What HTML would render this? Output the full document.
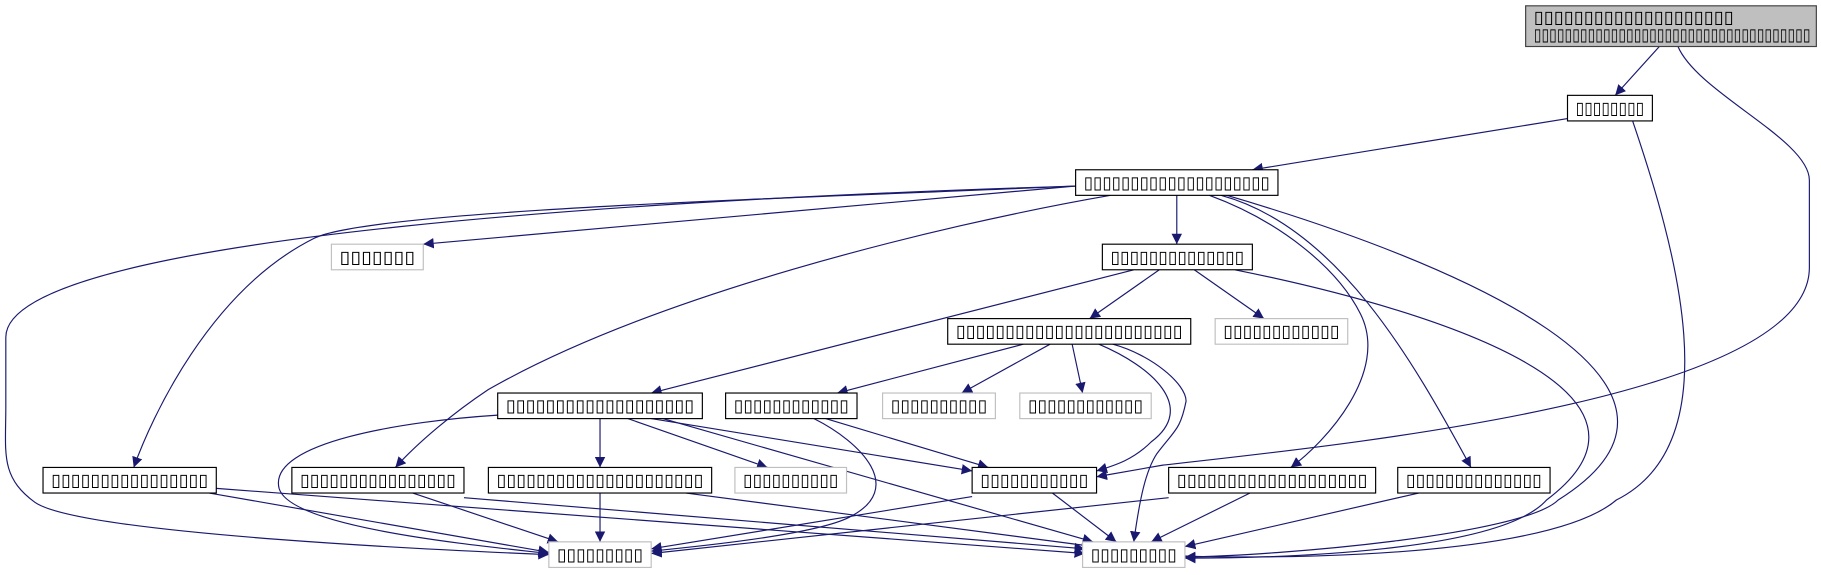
<!DOCTYPE html>
<html><head><meta charset="utf-8"><style>
html,body{margin:0;padding:0;background:#fff;width:1821px;height:575px;overflow:hidden}
svg{display:block}
text{font-family:"DejaVu Sans","Liberation Sans",sans-serif;font-size:15px;fill:#000}
</style></head><body>
<svg width="1821" height="575" viewBox="0 0 1566 494.5" preserveAspectRatio="none" xmlns="http://www.w3.org/2000/svg">
<defs><marker id="a" viewBox="0 0 10 10" refX="10" refY="5" markerWidth="9" markerHeight="9" markerUnits="userSpaceOnUse" orient="auto"><path d="M0,0 L10,5 L0,10 z" fill="#191970"/></marker></defs>
<g fill="none" stroke="#191970" stroke-width="1" marker-end="url(#a)">
<path d="M1427,40 L1389,82"/>
<path d="M1443,40 C1460,80 1556,120 1556,155 V230 C1556,340 1180,380 1000,400 L943,410"/>
<path d="M1360,100 L1077,146"/>
<path d="M1404,104 C1440,210 1490,380 1390,430 C1320,490 1000,478 1019,478"/>
<path d="M925,160 L364,210"/>
<path d="M1012,168 L1012,210"/>
<path d="M925,160 C700,170 320,180 270,205 C180,250 130,360 115,402"/>
<path d="M925,160 C600,170 5,200 5,290 V350 C5,390 0,410 30,432 C70,460 400,474 472,477"/>
<path d="M955,168 C800,195 560,255 420,335 C390,355 360,380 340,402"/>
<path d="M1040,168 C1100,190 1150,230 1170,270 C1195,320 1140,380 1110,402"/>
<path d="M1050,168 C1150,195 1215,310 1265,402"/>
<path d="M1055,168 C1250,225 1500,330 1340,430 C1310,460 1100,478 1019,479"/>
<path d="M975,232 L560,338"/>
<path d="M997,232 L937,274"/>
<path d="M1027,232 L1087,274"/>
<path d="M1062,232 C1250,270 1450,340 1330,430 C1290,475 1100,480 1019,480"/>
<path d="M880,296 L720,338"/>
<path d="M903,296 L827,338"/>
<path d="M922,296 L931,338"/>
<path d="M945,296 C990,315 1030,350 990,380 C975,395 960,400 943,405"/>
<path d="M957,296 C990,305 1020,330 1020,345 C1015,370 1010,370 995,390 C985,405 980,430 975,466"/>
<path d="M428,357 C350,362 230,380 240,420 C250,455 420,470 472,476"/>
<path d="M516,360 L516,402"/>
<path d="M540,360 L660,402"/>
<path d="M560,360 L836,405"/>
<path d="M570,360 L940,466"/>
<path d="M700,360 C740,380 780,420 730,445 C700,460 600,470 560,474"/>
<path d="M710,360 L850,402"/>
<path d="M180,424 L472,475"/>
<path d="M186,420 L933,476"/>
<path d="M355,424 L480,466"/>
<path d="M399,428 L933,472"/>
<path d="M516,424 L516,466"/>
<path d="M590,424 L940,470"/>
<path d="M836,427 L560,472"/>
<path d="M905,424 L960,466"/>
<path d="M1075,424 L990,466"/>
<path d="M1005,428 L560,476"/>
<path d="M1220,424 L1019,470"/>
</g>
<g stroke-width="1">
<rect x="1312" y="5" width="250" height="35" fill="#bfbfbf" stroke="#404040"/>
<text x="1319" y="20" textLength="172" lengthAdjust="spacingAndGlyphs">▯▯▯▯▯▯▯▯▯▯▯▯▯▯▯▯▯▯▯▯</text>
<text x="1319" y="35" textLength="238" lengthAdjust="spacingAndGlyphs">▯▯▯▯▯▯▯▯▯▯▯▯▯▯▯▯▯▯▯▯▯▯▯▯▯▯▯▯▯▯▯▯▯▯▯▯</text>
</g>
<g fill="#fff" stroke-width="1">
<rect x="1348" y="82" width="73" height="22" stroke="#000"/>
<rect x="925" y="146" width="174" height="22" stroke="#000"/>
<rect x="285" y="210" width="79" height="22" stroke="#bfbfbf"/>
<rect x="948" y="210" width="129" height="22" stroke="#000"/>
<rect x="815" y="274" width="209" height="22" stroke="#000"/>
<rect x="1045" y="274" width="114" height="22" stroke="#bfbfbf"/>
<rect x="428" y="338" width="176" height="22" stroke="#000"/>
<rect x="624" y="338" width="113" height="22" stroke="#000"/>
<rect x="759" y="338" width="97" height="22" stroke="#bfbfbf"/>
<rect x="877" y="338" width="113" height="22" stroke="#bfbfbf"/>
<rect x="37" y="402" width="149" height="22" stroke="#000"/>
<rect x="251" y="402" width="148" height="22" stroke="#000"/>
<rect x="420" y="402" width="192" height="22" stroke="#000"/>
<rect x="632" y="402" width="96" height="22" stroke="#bfbfbf"/>
<rect x="836" y="402" width="107" height="22" stroke="#000"/>
<rect x="1005" y="402" width="178" height="22" stroke="#000"/>
<rect x="1202" y="402" width="131" height="22" stroke="#000"/>
<rect x="472" y="466" width="88" height="22" stroke="#bfbfbf"/>
<rect x="931" y="466" width="88" height="22" stroke="#bfbfbf"/>
</g>
<g text-anchor="start">
<text x="1355" y="98" textLength="59" lengthAdjust="spacingAndGlyphs">▯▯▯▯▯▯▯▯</text>
<text x="932" y="162" textLength="160" lengthAdjust="spacingAndGlyphs">▯▯▯▯▯▯▯▯▯▯▯▯▯▯▯▯▯▯▯▯</text>
<text x="292" y="226" textLength="65" lengthAdjust="spacingAndGlyphs">▯▯▯▯▯▯▯</text>
<text x="955" y="226" textLength="115" lengthAdjust="spacingAndGlyphs">▯▯▯▯▯▯▯▯▯▯▯▯▯▯</text>
<text x="822" y="290" textLength="195" lengthAdjust="spacingAndGlyphs">▯▯▯▯▯▯▯▯▯▯▯▯▯▯▯▯▯▯▯▯▯▯▯</text>
<text x="1052" y="290" textLength="100" lengthAdjust="spacingAndGlyphs">▯▯▯▯▯▯▯▯▯▯▯▯</text>
<text x="435" y="354" textLength="162" lengthAdjust="spacingAndGlyphs">▯▯▯▯▯▯▯▯▯▯▯▯▯▯▯▯▯▯▯</text>
<text x="631" y="354" textLength="99" lengthAdjust="spacingAndGlyphs">▯▯▯▯▯▯▯▯▯▯▯▯</text>
<text x="766" y="354" textLength="83" lengthAdjust="spacingAndGlyphs">▯▯▯▯▯▯▯▯▯▯</text>
<text x="884" y="354" textLength="99" lengthAdjust="spacingAndGlyphs">▯▯▯▯▯▯▯▯▯▯▯▯</text>
<text x="44" y="418" textLength="135" lengthAdjust="spacingAndGlyphs">▯▯▯▯▯▯▯▯▯▯▯▯▯▯▯▯</text>
<text x="258" y="418" textLength="134" lengthAdjust="spacingAndGlyphs">▯▯▯▯▯▯▯▯▯▯▯▯▯▯▯▯</text>
<text x="427" y="418" textLength="178" lengthAdjust="spacingAndGlyphs">▯▯▯▯▯▯▯▯▯▯▯▯▯▯▯▯▯▯▯▯▯</text>
<text x="639" y="418" textLength="82" lengthAdjust="spacingAndGlyphs">▯▯▯▯▯▯▯▯▯▯</text>
<text x="843" y="418" textLength="93" lengthAdjust="spacingAndGlyphs">▯▯▯▯▯▯▯▯▯▯▯</text>
<text x="1012" y="418" textLength="164" lengthAdjust="spacingAndGlyphs">▯▯▯▯▯▯▯▯▯▯▯▯▯▯▯▯▯▯▯</text>
<text x="1209" y="418" textLength="117" lengthAdjust="spacingAndGlyphs">▯▯▯▯▯▯▯▯▯▯▯▯▯▯</text>
<text x="479" y="482" textLength="74" lengthAdjust="spacingAndGlyphs">▯▯▯▯▯▯▯▯▯</text>
<text x="938" y="482" textLength="74" lengthAdjust="spacingAndGlyphs">▯▯▯▯▯▯▯▯▯</text>
</g>
</svg>
</body></html>
